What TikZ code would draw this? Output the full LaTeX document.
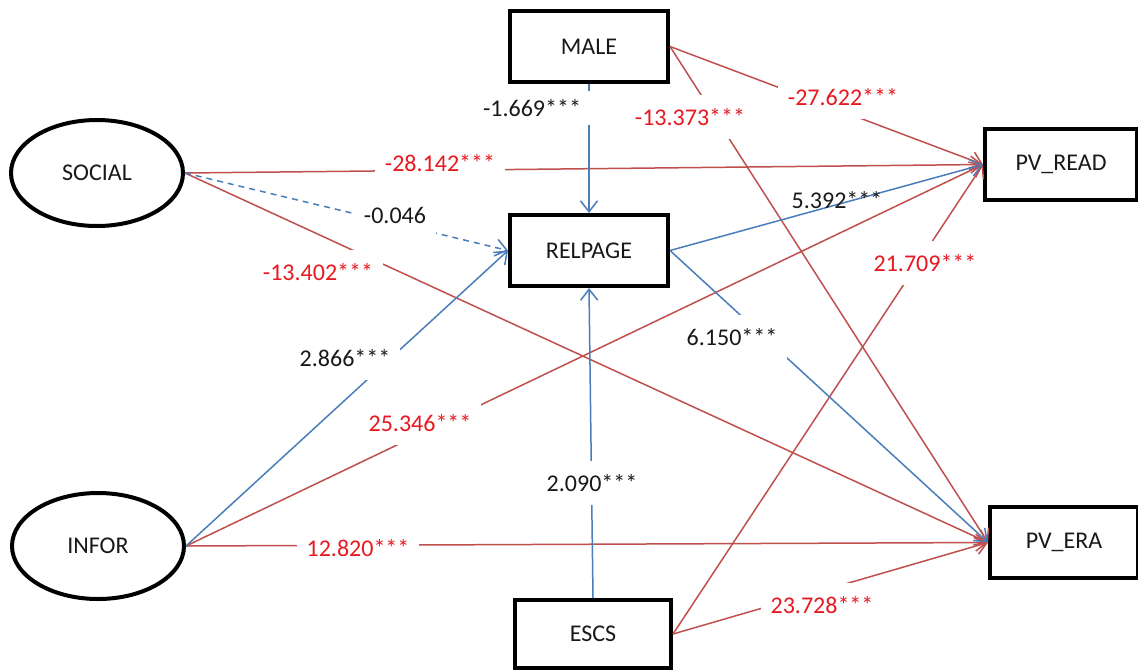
\documentclass[tikz,border=0pt]{standalone}
\usepackage{fontspec}
\setmainfont{Carlito}
\usetikzlibrary{shapes.geometric,arrows.meta}
\definecolor{bl}{RGB}{74,126,187}
\definecolor{rd}{RGB}{192,80,77}
\definecolor{lred}{RGB}{232,24,32}
\definecolor{txt}{RGB}{25,25,25}
\begin{document}
\begin{tikzpicture}[x=1pt,y=-1pt,
  box/.style={draw=black,line width=4pt,rectangle,minimum width=158pt,minimum height=71pt,inner sep=0pt,font=\fontsize{24}{28}\selectfont,text=txt},
  oval/.style={draw=black,ellipse,line width=4pt,minimum width=172pt,minimum height=106pt,inner sep=0pt,font=\fontsize{24}{28}\selectfont,text=txt},
  bline/.style={draw=bl,line width=1.5pt,-{Straight Barb[length=11pt,width=17pt]}},
  rline/.style={draw=rd,line width=1.5pt,-{Straight Barb[length=11pt,width=17pt]}},
  lab/.style={fill=white,inner xsep=10pt,inner ysep=13pt,font=\fontsize{24}{28}\selectfont},
  blab/.style={lab,text=txt},
  rlab/.style={lab,text=lred}]
\useasboundingbox (0,0) rectangle (1138,670);
\fill[white] (0,0) rectangle (1138,670);
% nodes
\node[box] (male) at (589,46.5) {MALE};
\node[box] (relpage) at (589,250.5) {RELPAGE};
\node[box,minimum width=156pt,minimum height=68pt] (escs) at (593,634) {ESCS};
\node[box,minimum width=152pt] (pvread) at (1061,164.5) {PV\_READ};
\node[box,minimum width=148pt] (pvera) at (1064,542.5) {PV\_ERA};
\node[oval] (social) at (97,173) {SOCIAL};
\node[oval] (infor) at (98,546) {INFOR};
% red connectors
\draw[rline] (male.east) -- (pvread.west);
\draw[rline] (male.east) -- (pvera.west);
\draw[rline] (social.east) -- (pvread.west);
\draw[rline] (social.east) -- (pvera.west);
\draw[rline] (infor.east) -- (pvread.west);
\draw[rline] (infor.east) -- (pvera.west);
\draw[rline] (escs.east) -- (pvread.west);
\draw[rline] (escs.east) -- (pvera.west);
% blue connectors
\draw[bline] (male.south) -- (relpage.north);
\draw[bline,dashed,dash pattern=on 6pt off 5pt] (social.east) -- (relpage.west);
\draw[bline] (infor.east) -- (relpage.west);
\draw[bline] (escs.north) -- (relpage.south);
\draw[bline] (relpage.east) -- (pvread.west);
\draw[bline] (relpage.east) -- (pvera.west);
% labels
\node[blab,inner xsep=14pt,inner ysep=8pt] (l1) at (532,108) {-1.669***};
\node[blab] (l2) at (395,215) {-0.046};
\node[blab] (l3) at (345,358) {2.866***};
\node[blab] (l4) at (592,483) {2.090***};
\node[blab,fill=none] (l5) at (837,200) {5.392***};
\node[blab] (l6) at (732,337) {6.150***};
\node[rlab] (r1) at (843,97) {-27.622***};
\node[rlab] (r2) at (690,117) {-13.373***};
\node[rlab] (r3) at (440,163) {-28.142***};
\node[rlab] (r4) at (318,272) {-13.402***};
\node[rlab] (r5) at (420,423) {25.346***};
\node[rlab] (r6) at (358,548) {12.820***};
\node[rlab] (r7) at (925,263) {21.709***};
\node[rlab] (r8) at (822,605) {23.728***};
\end{tikzpicture}
\end{document}
